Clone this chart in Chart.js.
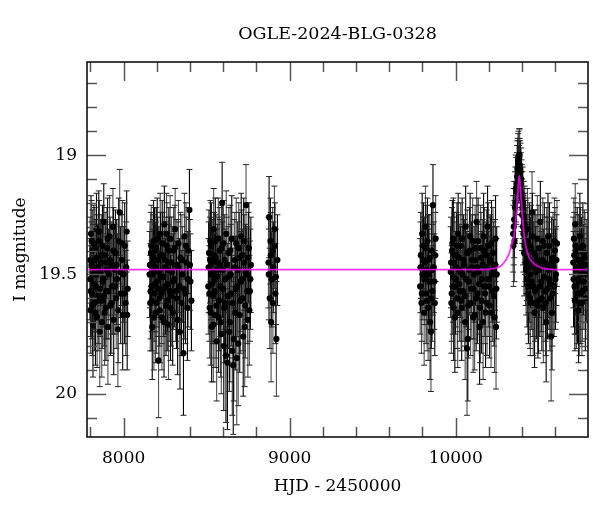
<!DOCTYPE html>
<html>
<head>
<meta charset="utf-8">
<script src="https://cdn.jsdelivr.net/npm/chart.js@4/dist/chart.umd.min.js"></script>
<style>
html,body{margin:0;padding:0;background:#fff;overflow:hidden;}
canvas{display:block;}
</style>
</head>
<body>
<canvas id="c" width="600" height="512" style="width:600px;height:512px"></canvas>
<script>
// ---- data ----
const chartTitle = 'OGLE-2024-BLG-0328';
const xTitle = 'HJD - 2450000';
const yTitle = 'I magnitude';

// observation epochs (HJD - 2450000)
const hjd = [
  7797,7800,7803,7806,7809,7812,7815,7818,7821,7824,7828,7832,7836,7840,7844,7848,7852,7856,7860,7865,7870,7875,7880,7885,7890,7895,7900,7905,7910,7915,7920,7925,7930,7935,7940,7945,7950,7955,7960,7965,7970,7976,7982,7988,7994,8000,8006,8012,8018,8024,
  8156,8160,8164,8168,8172,8176,8180,8184,8188,8192,8196,8200,8205,8210,8215,8220,8225,8230,8235,8240,8245,8250,8255,8260,8265,8270,8275,8280,8285,8290,8295,8300,8305,8310,8315,8320,8325,8330,8336,8342,8348,8354,8360,8366,8372,8378,8384,8390,8396,8402,8408,
  8510,8514,8518,8522,8526,8530,8534,8538,8542,8546,8550,8555,8560,8565,8570,8575,8580,8585,8590,8593,8598,8603,8608,8613,8618,8625,8630,8636,8642,8648,8654,8660,8666,8672,8678,8684,8690,8696,8702,8708,8714,8720,8726,8732,8737,8742,8748,8754,8760,8766,
  8872,8876,8880,8884,8888,8892,8897,8902,8908,8914,8920,8926,
  9786,9790,9794,9798,9802,9806,9810,9814,9818,9822,9826,9830,9834,9838,9842,9846,9851,9855,9859,9863,9868,9874,9879,
  9970,9974,9978,9982,9986,9990,9995,10000,10005,10010,10015,10020,10025,10030,10036,10042,10048,10054,10060,10068,10073,10078,10084,10090,10096,10102,10108,10114,10120,10126,10132,10138,10144,10150,10156,10162,10168,10174,10180,10186,10192,10198,10204,10210,10216,10222,10228,10234,10240,10243,10247,
  10346,10350,10354,10360,10365,10368,10372,10376,10380,10383,10386,10390,10394,10398,10402,10406,10410,10414,10418,10422,10426,10430,10434,10438,10442,10446,10450,10455,10460,10465,10470,10475,10480,10486,10492,10498,10504,10510,10516,10522,10528,10534,10540,10545,10550,10556,10562,10568,10575,10580,10586,10592,10598,10604,10610,
  10708,10712,10716,10720,10724,10728,10732,10736,10740,10744,10748,10752,10756,10760,10766,10772,10778,10784,10790
];
const mag = [
  19.52,19.65,19.33,19.46,19.58,19.40,19.71,19.50,19.37,19.62,19.44,19.55,19.31,19.68,19.47,19.59,19.36,19.74,19.49,19.42,19.61,19.53,19.28,19.66,19.45,19.57,19.39,19.72,19.50,19.34,19.63,19.46,19.55,19.30,19.69,19.48,19.41,19.60,19.52,19.73,19.36,19.24,19.58,19.44,19.67,19.50,19.38,19.62,19.32,19.56,
  19.50,19.62,19.41,19.55,19.72,19.45,19.36,19.58,19.48,19.66,19.39,19.53,19.44,19.86,19.60,19.33,19.51,19.68,19.42,19.56,19.29,19.47,19.63,19.38,19.54,19.71,19.45,19.35,19.59,19.49,19.66,19.40,19.52,19.31,19.57,19.46,19.69,19.37,19.55,19.43,19.62,19.50,19.83,19.34,19.58,19.45,19.64,19.40,19.23,19.53,19.61,
  19.55,19.41,19.64,19.36,19.50,19.72,19.45,19.59,19.31,19.52,19.67,19.43,19.78,19.48,19.35,19.61,19.46,19.70,19.39,19.20,19.56,19.80,19.44,19.62,19.33,19.87,19.51,19.74,19.40,19.58,19.82,19.88,19.47,19.66,19.37,19.55,19.79,19.43,19.61,19.34,19.52,19.76,19.45,19.63,19.21,19.50,19.69,19.39,19.57,19.46,
  19.45,19.26,19.60,19.36,19.70,19.52,19.40,19.47,19.31,19.58,19.77,19.44,
  19.55,19.42,19.62,19.33,19.50,19.38,19.66,19.45,19.30,19.58,19.48,19.36,19.64,19.44,19.53,19.70,19.74,19.40,19.57,19.21,19.47,19.62,19.35,
  19.49,19.62,19.40,19.55,19.35,19.45,19.68,19.52,19.42,19.60,19.33,19.48,19.57,19.38,19.64,19.50,19.44,19.59,19.30,19.81,19.77,19.53,19.40,19.62,19.47,19.36,19.56,19.67,19.44,19.28,19.58,19.49,19.72,19.39,19.61,19.46,19.34,19.55,19.66,19.42,19.30,19.52,19.63,19.45,19.37,19.57,19.48,19.68,19.35,19.72,19.50,
  19.33,19.30,19.36,19.20,19.15,19.12,19.06,19.03,19.05,19.01,19.04,19.07,19.10,19.18,19.22,19.30,19.26,19.38,19.33,19.45,19.40,19.52,19.36,19.58,19.44,19.50,19.62,19.39,19.24,19.55,19.47,19.66,19.42,19.56,19.35,19.61,19.48,19.28,19.53,19.44,19.64,19.38,19.57,19.70,19.46,19.34,19.52,19.60,19.76,19.66,19.43,19.55,19.40,19.50,19.37,
  19.45,19.35,19.55,19.29,19.48,19.60,19.40,19.52,19.65,19.44,19.34,19.58,19.47,19.62,19.38,19.53,19.43,19.56,19.50
];
const magErr = [
  0.17,0.18,0.16,0.18,0.19,0.17,0.22,0.18,0.16,0.20,0.17,0.19,0.15,0.21,0.18,0.20,0.17,0.23,0.18,0.17,0.20,0.19,0.16,0.22,0.18,0.20,0.17,0.24,0.19,0.17,0.21,0.18,0.20,0.16,0.23,0.19,0.18,0.21,0.19,0.24,0.18,0.18,0.21,0.19,0.23,0.20,0.18,0.22,0.17,0.20,
  0.18,0.20,0.17,0.19,0.22,0.18,0.17,0.20,0.19,0.21,0.17,0.19,0.18,0.24,0.20,0.17,0.19,0.22,0.18,0.20,0.16,0.19,0.21,0.18,0.20,0.23,0.19,0.18,0.21,0.19,0.22,0.18,0.20,0.17,0.21,0.19,0.23,0.18,0.20,0.19,0.22,0.20,0.26,0.18,0.21,0.19,0.22,0.18,0.17,0.20,0.21,
  0.20,0.18,0.21,0.17,0.19,0.23,0.18,0.20,0.17,0.19,0.22,0.18,0.25,0.19,0.17,0.21,0.19,0.23,0.18,0.17,0.20,0.27,0.19,0.22,0.18,0.28,0.21,0.25,0.19,0.22,0.27,0.29,0.20,0.24,0.19,0.21,0.26,0.19,0.22,0.18,0.21,0.25,0.20,0.22,0.17,0.20,0.24,0.19,0.21,0.20,
  0.19,0.17,0.21,0.18,0.25,0.20,0.18,0.19,0.18,0.21,0.24,0.19,
  0.20,0.18,0.21,0.17,0.19,0.18,0.22,0.19,0.17,0.21,0.19,0.18,0.22,0.19,0.20,0.24,0.25,0.19,0.21,0.17,0.19,0.22,0.18,
  0.19,0.21,0.18,0.20,0.17,0.19,0.23,0.20,0.18,0.21,0.17,0.19,0.21,0.18,0.22,0.20,0.19,0.21,0.17,0.28,0.26,0.20,0.18,0.22,0.19,0.18,0.21,0.23,0.19,0.17,0.21,0.20,0.24,0.18,0.22,0.19,0.18,0.21,0.23,0.19,0.17,0.20,0.22,0.19,0.18,0.21,0.20,0.23,0.18,0.26,0.20,
  0.16,0.16,0.17,0.15,0.14,0.13,0.12,0.12,0.11,0.12,0.11,0.12,0.13,0.14,0.15,0.16,0.15,0.17,0.17,0.18,0.18,0.20,0.18,0.21,0.19,0.20,0.22,0.18,0.17,0.21,0.19,0.23,0.19,0.21,0.18,0.22,0.20,0.17,0.21,0.19,0.23,0.18,0.21,0.25,0.20,0.18,0.21,0.22,0.27,0.24,0.19,0.21,0.18,0.20,0.18,
  0.19,0.17,0.20,0.17,0.19,0.21,0.18,0.20,0.22,0.19,0.18,0.21,0.19,0.22,0.18,0.20,0.19,0.21,0.20
];

// further epochs in the crowded parts of each season (estimated)
const hjdExtra = [
  7798,7802,7807,7811,7816,7820,7826,7830,7834,7838,7846,7850,7858,7862,7868,7872,7878,7882,7888,7893,7898,7903,7908,7918,7928,7938,7948,7958,7968,7980,7992,8004,8015,8021,
  8158,8162,8166,8170,8174,8178,8182,8186,8190,8194,8198,8202,8208,8212,8218,8222,8228,8232,8238,8243,8248,8252,8258,8262,8268,8272,8278,8282,8288,8298,8308,8318,8328,8339,8351,8363,8375,8387,8399,
  8512,8516,8520,8524,8528,8532,8536,8540,8544,8548,8552,8558,8562,8568,8572,8578,8582,8588,8596,8601,8606,8611,8616,8621,8628,8633,8639,8645,8651,8657,8663,8669,8675,8681,8687,8693,8699,8705,8711,8717,8723,8729,8735,8745,8751,8757,8763,
  8874,8886,8899,8911,8917,
  9788,9796,9804,9812,9820,9828,9836,9844,9853,9861,9871,9877,
  9972,9976,9980,9984,9988,9992,9998,10002,10008,10012,10018,10022,10028,10033,10039,10045,10051,10057,10064,10070,10076,10081,10087,10093,10099,10105,10111,10117,10123,10129,10135,10141,10147,10153,10159,10165,10171,10177,10183,10189,10195,10201,10207,10213,10219,10225,10231,10237,10245,
  10348,10352,10357,10362,10370,10374,10378,10381,10385,10388,10392,10396,10400,10404,10408,10412,10416,10420,10424,10428,10432,10436,10440,10444,10448,10452,10457,10462,10467,10472,10478,10483,10489,10495,10501,10507,10513,10519,10525,10531,10537,10543,10548,10553,10559,10565,10571,10578,10583,10589,10595,10601,10607,
  10710,10714,10718,10722,10726,10730,10734,10738,10742,10746,10750,10754,10758,10763,10769,10775,10781,10787
];
const magExtra = [
  19.44,19.57,19.36,19.63,19.47,19.54,19.39,19.66,19.50,19.43,19.61,19.32,19.56,19.45,19.70,19.38,19.52,19.59,19.42,19.64,19.48,19.35,19.57,19.44,19.62,19.40,19.55,19.46,19.65,19.49,19.37,19.58,19.47,19.67,
  19.46,19.57,19.38,19.61,19.50,19.43,19.68,19.40,19.54,19.47,19.62,19.35,19.56,19.49,19.65,19.42,19.58,19.37,19.51,19.70,19.44,19.55,19.33,19.61,19.48,19.40,19.57,19.64,19.45,19.53,19.39,19.60,19.47,19.74,19.44,19.56,19.38,19.52,19.46,
  19.47,19.58,19.44,19.66,19.38,19.54,19.49,19.71,19.42,19.57,19.36,19.63,19.51,19.45,19.68,19.40,19.55,19.75,19.48,19.37,19.64,19.52,19.84,19.46,19.59,19.41,19.70,19.50,19.35,19.62,19.77,19.44,19.56,19.85,19.48,19.39,19.67,19.53,19.42,19.60,19.36,19.72,19.49,19.57,19.43,19.65,19.52,
  19.50,19.42,19.62,19.38,19.51,
  19.47,19.58,19.44,19.52,19.39,19.61,19.50,19.43,19.60,19.48,19.53,19.42,
  19.45,19.58,19.37,19.51,19.64,19.42,19.55,19.47,19.38,19.66,19.43,19.54,19.49,19.61,19.35,19.57,19.46,19.70,19.52,19.41,19.63,19.48,19.34,19.56,19.44,19.68,19.50,19.39,19.60,19.47,19.36,19.54,19.64,19.43,19.52,19.70,19.40,19.58,19.47,19.62,19.38,19.55,19.44,19.66,19.50,19.41,19.59,19.46,19.56,
  19.38,19.27,19.22,19.14,19.09,19.05,19.02,19.08,19.00,19.06,19.12,19.16,19.25,19.20,19.33,19.41,19.29,19.36,19.48,19.43,19.31,19.55,19.47,19.38,19.60,19.45,19.53,19.34,19.62,19.41,19.57,19.49,19.44,19.63,19.39,19.55,19.46,19.60,19.36,19.51,19.45,19.62,19.41,19.56,19.48,19.38,19.54,19.45,19.58,19.47,19.36,19.52,19.44,
  19.52,19.42,19.61,19.38,19.55,19.47,19.58,19.44,19.53,19.62,19.40,19.50,19.45,19.57,19.48,19.41,19.60,19.46
];
const magErrExtra = [
  0.18,0.19,0.17,0.21,0.18,0.19,0.17,0.22,0.19,0.18,0.21,0.17,0.20,0.18,0.23,0.17,0.19,0.21,0.18,0.22,0.19,0.17,0.20,0.18,0.21,0.18,0.20,0.19,0.22,0.19,0.18,0.21,0.19,0.23,
  0.18,0.20,0.17,0.21,0.19,0.18,0.22,0.18,0.20,0.19,0.21,0.17,0.20,0.19,0.22,0.18,0.21,0.18,0.19,0.23,0.18,0.20,0.17,0.21,0.19,0.18,0.21,0.22,0.19,0.20,0.18,0.21,0.19,0.24,0.19,0.21,0.18,0.20,0.19,
  0.19,0.20,0.18,0.22,0.18,0.20,0.19,0.24,0.18,0.21,0.18,0.22,0.20,0.19,0.23,0.18,0.21,0.25,0.20,0.18,0.23,0.21,0.28,0.20,0.22,0.19,0.25,0.21,0.18,0.23,0.26,0.20,0.22,0.28,0.20,0.19,0.24,0.21,0.19,0.22,0.18,0.25,0.20,0.22,0.19,0.23,0.21,
  0.19,0.18,0.21,0.18,0.20,
  0.19,0.20,0.18,0.19,0.18,0.21,0.19,0.18,0.21,0.19,0.20,0.18,
  0.19,0.20,0.18,0.19,0.22,0.18,0.20,0.19,0.18,0.23,0.18,0.20,0.19,0.21,0.17,0.21,0.19,0.24,0.20,0.18,0.22,0.19,0.18,0.21,0.19,0.23,0.20,0.18,0.22,0.19,0.18,0.21,0.23,0.19,0.20,0.24,0.18,0.21,0.19,0.22,0.18,0.21,0.19,0.23,0.20,0.19,0.21,0.19,0.21,
  0.17,0.16,0.15,0.14,0.13,0.12,0.12,0.12,0.11,0.12,0.13,0.14,0.15,0.15,0.16,0.18,0.16,0.17,0.19,0.18,0.17,0.20,0.19,0.18,0.21,0.19,0.20,0.18,0.22,0.18,0.21,0.19,0.19,0.22,0.18,0.21,0.19,0.22,0.18,0.20,0.19,0.22,0.19,0.21,0.20,0.18,0.21,0.19,0.22,0.20,0.18,0.21,0.19,
  0.20,0.18,0.21,0.18,0.20,0.19,0.21,0.19,0.20,0.22,0.18,0.20,0.19,0.21,0.19,0.18,0.22,0.19
];

// microlensing model curve
const modelHjd = [7779,10150,10230,10280,10317,10340,10351,10365,10375,10383,10391,10400,10413,10425,10443,10480,10530,10600,10797];
const modelMag = [19.48,19.48,19.475,19.46,19.42,19.37,19.34,19.25,19.15,19.085,19.15,19.24,19.34,19.39,19.43,19.46,19.475,19.48,19.48];

// axes
const xMin = 7779, xMax = 10797;
const yMin = 18.61, yMax = 20.181;
const xLabelTicks = [8000, 9000, 10000];
const xAllTicks = [7800,8000,8200,8400,8600,8800,9000,9200,9400,9600,9800,10000,10200,10400,10600];
const yLabelTicks = [19, 19.5, 20];
const yAllTicks = [18.7,18.8,18.9,19,19.1,19.2,19.3,19.4,19.5,19.6,19.7,19.8,19.9,20,20.1];

// ---- build datasets ----
const allHjd = hjd.concat(hjdExtra);
const allMag = mag.concat(magExtra);
const allErr = magErr.concat(magErrExtra);
const pts = allHjd.map((t, i) => ({x: t, y: allMag[i]}));
const bars = [];
allHjd.forEach((t, i) => {
  bars.push({x: t, y: allMag[i] - allErr[i]});
  bars.push({x: t, y: allMag[i] + allErr[i]});
  bars.push({x: t, y: null});
});
const model = modelHjd.map((t, i) => ({x: t, y: modelMag[i]}));

const serif = "'DejaVu Serif', 'Liberation Serif', serif";

const frameTicks = {
  id: 'frameTicks',
  afterDraw(chart) {
    const {ctx, chartArea: {left, right, top, bottom}, scales: {x, y}} = chart;
    ctx.save();
    ctx.strokeStyle = '#555';
    ctx.lineWidth = 1.5;
    ctx.beginPath();
    xAllTicks.forEach(v => {
      const px = Math.round(x.getPixelForValue(v)) + 0.5;
      const len = xLabelTicks.includes(v) ? 19 : 10;
      ctx.moveTo(px, bottom); ctx.lineTo(px, bottom - len);
      ctx.moveTo(px, top); ctx.lineTo(px, top + len);
    });
    yAllTicks.forEach(v => {
      const py = Math.round(y.getPixelForValue(v)) + 0.5;
      const len = yLabelTicks.includes(v) ? 19 : 10;
      ctx.moveTo(left, py); ctx.lineTo(left + len, py);
      ctx.moveTo(right, py); ctx.lineTo(right - len, py);
    });
    ctx.stroke();
    ctx.strokeStyle = '#111';
    ctx.lineWidth = 1.6;
    ctx.strokeRect(left, top, right - left, bottom - top);
    ctx.restore();
  }
};

new Chart(document.getElementById('c'), {
  type: 'line',
  data: {
    datasets: [
      {
        label: 'model',
        data: model,
        showLine: true,
        borderColor: 'rgba(255,0,255,0.8)',
        borderWidth: 1.8,
        pointRadius: 0,
        cubicInterpolationMode: 'monotone'
      },
      {
        label: 'data',
        data: pts,
        showLine: false,
        pointStyle: 'circle',
        pointRadius: 3.1,
        pointBackgroundColor: '#000',
        pointBorderColor: '#000',
        pointBorderWidth: 0
      },
      {
        label: 'errors',
        data: bars,
        showLine: true,
        spanGaps: false,
        borderColor: '#111',
        borderWidth: 1.1,
        segment: {
          borderColor: c => (Math.floor(c.p0DataIndex / 3) % 2 === 0 ? '#000' : '#505050')
        },
        pointStyle: 'line',
        pointRadius: 3,
        pointBorderWidth: 1,
        pointBorderColor: '#222',
        pointHoverRadius: 3,
        tension: 0
      }
    ]
  },
  options: {
    responsive: false,
    animation: false,
    events: [],
    layout: {padding: {left: 0, right: 12, top: 0, bottom: 0}},
    plugins: {legend: {display: false}, tooltip: {enabled: false}, title: {display: false}},
    scales: {
      x: {
        type: 'linear', position: 'bottom', min: xMin, max: xMax,
        grid: {display: false, drawTicks: false},
        border: {display: false},
        afterBuildTicks: s => { s.ticks = xLabelTicks.map(v => ({value: v})); },
        afterFit: s => { s.height = 75; },
        ticks: {color: '#000', font: {family: serif, size: 17}, padding: 11, maxRotation: 0,
                callback: v => String(v)},
        title: {display: true, text: xTitle, color: '#000', font: {family: serif, size: 17}, padding: {top: 0, bottom: 15}}
      },
      xTop: {
        type: 'linear', position: 'top', min: xMin, max: xMax,
        grid: {display: false, drawTicks: false},
        border: {display: false},
        ticks: {display: false},
        afterFit: s => { s.height = 62; },
        title: {display: true, text: chartTitle, color: '#000', font: {family: serif, size: 17.5}, padding: {top: 24, bottom: 0}}
      },
      y: {
        type: 'linear', position: 'left', min: yMin, max: yMax, reverse: true,
        grid: {display: false, drawTicks: false},
        border: {display: false},
        afterBuildTicks: s => { s.ticks = yLabelTicks.map(v => ({value: v})); },
        afterFit: s => { s.width = 87; },
        ticks: {color: '#000', font: {family: serif, size: 17}, padding: 10,
                callback: v => String(v)},
        title: {display: true, text: yTitle, color: '#000', font: {family: serif, size: 17}, padding: {top: 10, bottom: 0}}
      }
    }
  },
  plugins: [frameTicks]
});
</script>
</body>
</html>
